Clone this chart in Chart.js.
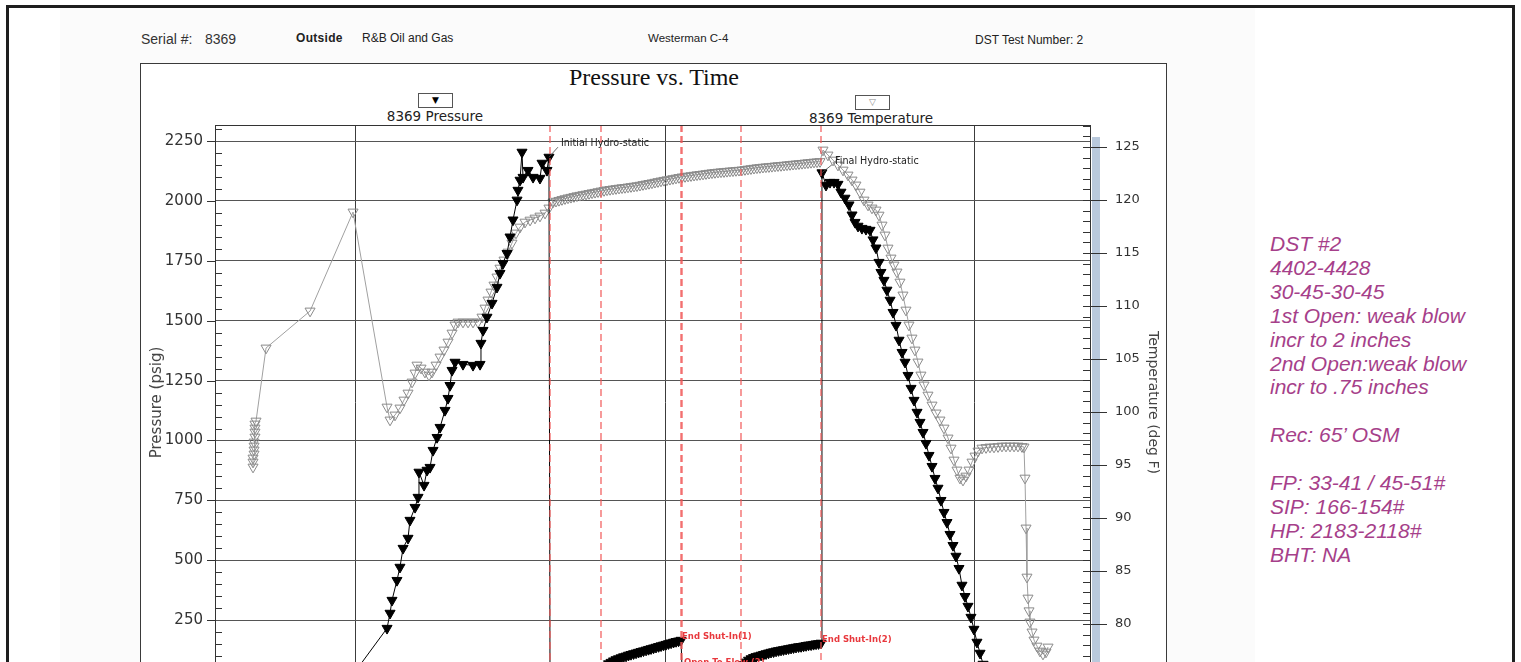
<!DOCTYPE html>
<html>
<head>
<meta charset="utf-8">
<title>Pressure vs. Time</title>
<script src="https://cdn.jsdelivr.net/npm/chart.js@4/dist/chart.umd.min.js"></script>
<style>
html,body{margin:0;padding:0;width:1521px;height:662px;overflow:hidden;background:#fff;}
#frame{position:absolute;left:6px;top:5px;width:1503px;height:760px;border:3px solid #1e1e1e;}
#panel{position:absolute;left:60px;top:8px;width:1195px;height:760px;background:#fbfbfb;}
#box{position:absolute;left:140px;top:63px;width:1025px;height:760px;border:1.5px solid #3a3a3a;background:#fff;}
.t{position:absolute;white-space:nowrap;font-family:"Liberation Sans",Arial,sans-serif;color:#222;line-height:1;transform:translateY(-50%);}
.c{transform:translate(-50%,-50%);}
.lbox{position:absolute;border:1px solid #555;background:#fff;text-align:center;font-family:"DejaVu Sans",sans-serif;line-height:13px;}
#notes{position:absolute;left:1270px;top:232px;font-family:"Liberation Sans",Arial,sans-serif;font-style:italic;font-size:21px;line-height:23.9px;color:#a63f8a;white-space:pre;}
#chart{position:absolute;left:0;top:0;z-index:3;}
</style>
</head>
<body>
<div id="frame"></div>
<div id="panel"></div>
<div id="box"></div>
<div class="t" style="left:141px;top:39px;font-size:14px;color:#333">Serial #:</div>
<div class="t" style="left:205px;top:39px;font-size:14px;color:#333">8369</div>
<div class="t" style="left:296px;top:38px;font-size:12px;font-weight:bold;letter-spacing:0.3px">Outside</div>
<div class="t" style="left:362px;top:38px;font-size:12px">R&amp;B Oil and Gas</div>
<div class="t" style="left:648px;top:39px;font-size:11.5px">Westerman C-4</div>
<div class="t" style="left:975px;top:40px;font-size:12px">DST Test Number: 2</div>
<div class="t c" style="left:654px;top:77px;font-family:'Liberation Serif','Times New Roman',serif;font-size:24px;color:#111">Pressure vs. Time</div>
<div class="lbox" style="left:418px;top:93px;width:33px;height:13px;font-size:9px;color:#000">▼</div>
<div class="t c" style="left:435px;top:117px;font-family:'DejaVu Sans',sans-serif;font-size:13.5px">8369 Pressure</div>
<div class="lbox" style="left:855px;top:95px;width:33px;height:13px;font-size:9px;color:#888">▽</div>
<div class="t c" style="left:871px;top:119px;font-family:'DejaVu Sans',sans-serif;font-size:13.5px">8369 Temperature</div>
<div id="notes">DST #2
4402-4428
30-45-30-45
1st Open: weak blow
incr to 2 inches
2nd Open:weak blow
incr to .75 inches

Rec: 65’ OSM

FP: 33-41 / 45-51#
SIP: 166-154#
HP: 2183-2118#
BHT: NA</div>
<canvas id="chart" width="1521" height="760"></canvas>
<script>
// ---- data (time in hours) ----
const pressureTime = [2.942, 3.310, 3.339, 3.358, 3.406, 3.435, 3.465, 3.513, 3.532, 3.581, 3.610, 3.619, 3.668, 3.697, 3.726, 3.755, 3.794, 3.823, 3.871, 3.900, 3.919, 3.939, 3.968, 4.045, 4.142, 4.210, 4.219, 4.239, 4.277, 4.326, 4.374, 4.403, 4.432, 4.471, 4.500, 4.529, 4.568, 4.577, 4.597, 4.616, 4.626, 4.674, 4.723, 4.790, 4.810, 4.858, 4.877,
  4.887, 4.984, 5.081, 5.178, 5.274,
  5.381, 5.405, 5.429, 5.454, 5.478, 5.502, 5.526, 5.550, 5.575, 5.599, 5.623, 5.647, 5.671, 5.696, 5.720, 5.744, 5.768, 5.792, 5.817, 5.841, 5.865, 5.889, 5.913, 5.938, 5.962, 5.986, 6.010, 6.034, 6.059, 6.083, 6.107, 6.131, 6.155,
  6.165, 6.290, 6.436, 6.581,
  6.736, 6.760, 6.784, 6.809, 6.833, 6.857, 6.881, 6.905, 6.930, 6.954, 6.978, 7.002, 7.026, 7.051, 7.075, 7.099, 7.123, 7.147, 7.172, 7.196, 7.220, 7.244, 7.268, 7.293, 7.317, 7.341, 7.365, 7.389, 7.414, 7.438, 7.462, 7.486, 7.510,
  7.519, 7.558, 7.597, 7.636, 7.674, 7.703, 7.742, 7.781, 7.810, 7.839, 7.868, 7.906, 7.945, 7.984, 8.013, 8.042, 8.071, 8.090, 8.119, 8.148, 8.178, 8.207, 8.236, 8.265, 8.294, 8.323, 8.352, 8.381, 8.410, 8.439, 8.468, 8.497, 8.526, 8.555, 8.584, 8.613, 8.642, 8.671, 8.700, 8.729, 8.758, 8.787, 8.816, 8.845, 8.874, 8.903, 8.932, 8.961, 8.990, 9.019, 9.049, 9.078, 9.107, 9.136];
const pressureValues = [0, 216, 279, 333, 416, 471, 550, 592, 667, 721, 763, 868, 813, 876, 888, 959, 1013, 1055, 1126, 1176, 1230, 1293, 1327, 1318, 1314, 1318, 1406, 1460, 1515, 1573, 1640, 1698, 1739, 1781, 1850, 1921, 2004, 2045, 2087, 2204, 2099, 2128, 2099, 2095, 2158, 2128, 2183,
  33, 35, 36, 37, 39,
  41, 52, 60, 68, 74, 80, 85, 89, 93, 97, 100, 104, 107, 110, 113, 116, 119, 122, 125, 128, 131, 134, 137, 140, 143, 146, 149, 152, 155, 158, 161, 163, 166,
  45, 47, 48, 50,
  51, 64, 75, 83, 89, 94, 98, 101, 104, 107, 110, 113, 116, 118, 121, 123, 125, 127, 129, 131, 133, 135, 137, 139, 140, 142, 144, 146, 147, 149, 151, 152, 154,
  2118, 2066, 2078, 2078, 2070, 2037, 2012, 1984, 1942, 1911, 1895, 1886, 1882, 1878, 1838, 1804, 1744, 1702, 1669, 1628, 1586, 1535, 1481, 1419, 1368, 1327, 1272, 1218, 1168, 1118, 1076, 1034, 988, 938, 892, 842, 801, 750, 700, 658, 608, 562, 517, 466, 396, 349, 308, 262, 212, 158, 112, 66, 24, 0];

const temperatureTime = [2.013, 2.013, 2.013, 2.023, 2.023, 2.023, 2.023, 2.032, 2.032, 2.032, 2.032, 2.042, 2.139, 2.565, 2.981,
  3.310, 3.339, 3.387, 3.435, 3.474, 3.513, 3.552, 3.581, 3.600, 3.639, 3.677, 3.716, 3.745, 3.784, 3.823, 3.861, 3.900, 3.939, 3.968, 3.997, 4.045, 4.094, 4.142, 4.190, 4.229, 4.258, 4.287, 4.316, 4.345, 4.374, 4.403, 4.442, 4.481, 4.519, 4.558, 4.597, 4.645, 4.694, 4.742, 4.790, 4.839, 4.877, 4.916,
  4.945, 4.974, 5.003, 5.032, 5.061, 5.090, 5.119, 5.148, 5.177, 5.206, 5.236, 5.265, 5.294, 5.323, 5.352, 5.381, 5.410, 5.439, 5.468, 5.497, 5.526, 5.555, 5.584, 5.613, 5.642, 5.671, 5.700, 5.729, 5.758, 5.787, 5.816, 5.845, 5.874, 5.903, 5.932, 5.961, 5.990, 6.019, 6.048, 6.077, 6.106, 6.135, 6.165, 6.194, 6.223, 6.252, 6.281, 6.310, 6.339, 6.368, 6.397, 6.426, 6.455, 6.484, 6.513, 6.542, 6.571, 6.600, 6.629, 6.658, 6.687, 6.716, 6.745, 6.774, 6.803, 6.832, 6.861, 6.890, 6.919, 6.948, 6.977, 7.006, 7.035, 7.065, 7.094, 7.123, 7.152, 7.181, 7.210, 7.239, 7.268, 7.297, 7.326, 7.355, 7.384, 7.413, 7.442, 7.471, 7.500,
  7.529, 7.577, 7.626, 7.674, 7.723, 7.771, 7.810, 7.848, 7.887, 7.926, 7.965, 8.003, 8.042, 8.071, 8.100, 8.129, 8.158, 8.187, 8.216, 8.245, 8.274, 8.303, 8.332, 8.361, 8.390, 8.419, 8.448, 8.477, 8.507, 8.545, 8.584, 8.623, 8.661, 8.700, 8.739, 8.768, 8.797, 8.826, 8.855, 8.884, 8.913, 8.942, 8.971, 9.000, 9.029,
  9.068, 9.107, 9.145, 9.184, 9.223, 9.261, 9.300, 9.339, 9.378, 9.416, 9.455, 9.474,
  9.484, 9.494, 9.503, 9.513, 9.523, 9.532, 9.552, 9.571, 9.600, 9.629, 9.658, 9.687, 9.707];
const temperatureValues = [94.81, 95.28, 95.66, 96.04, 96.42, 96.79, 97.17, 97.64, 98.11, 98.49, 98.87, 99.15, 106.04, 109.53, 118.87,
  100.47, 99.25, 99.72, 100.38, 101.13, 101.79, 102.83, 103.68, 104.43, 104.15, 103.77, 103.49, 103.77, 104.43, 105.19, 105.85, 106.60, 107.45, 108.21, 108.49, 108.49, 108.49, 108.49, 108.49, 108.96, 109.81, 110.57, 111.32, 111.98, 112.74, 113.58, 114.34, 115.09, 115.94, 116.89, 117.45, 117.92, 118.11, 118.30, 118.49, 118.77, 119.25, 119.81,
  119.89, 119.97, 120.05, 120.13, 120.20, 120.26, 120.33, 120.40, 120.45, 120.51, 120.56, 120.62, 120.68, 120.73, 120.79, 120.85, 120.90, 120.96, 121.00, 121.04, 121.08, 121.12, 121.16, 121.19, 121.23, 121.27, 121.31, 121.35, 121.40, 121.46, 121.51, 121.57, 121.62, 121.68, 121.74, 121.80, 121.86, 121.91, 121.96, 122.02, 122.07, 122.13, 122.18, 122.22, 122.26, 122.30, 122.34, 122.38, 122.42, 122.45, 122.49, 122.53, 122.57, 122.60, 122.63, 122.66, 122.68, 122.71, 122.74, 122.76, 122.79, 122.81, 122.84, 122.88, 122.92, 122.96, 123.00, 123.04, 123.07, 123.10, 123.13, 123.15, 123.18, 123.21, 123.24, 123.26, 123.29, 123.32, 123.35, 123.38, 123.40, 123.43, 123.46, 123.49, 123.52, 123.55, 123.58, 123.60, 123.63,
  124.72, 124.25, 123.77, 123.30, 122.83, 122.36, 121.89, 121.42, 120.75, 120.00, 119.53, 119.25, 119.06, 118.58, 117.64, 116.70, 115.47, 114.53, 113.87, 113.21, 112.26, 111.04, 109.62, 108.21, 106.98, 105.85, 104.72, 103.49, 102.55, 101.60, 100.66, 99.91, 99.25, 98.49, 97.55, 96.60, 95.47, 94.53, 93.77, 93.58, 93.96, 94.53, 95.28, 95.85, 96.32,
  96.60, 96.65, 96.70, 96.70, 96.74, 96.79, 96.79, 96.79, 96.79, 96.79, 96.74, 96.70,
  93.77, 89.06, 84.43, 82.45, 81.25, 80.19, 79.25, 78.49, 77.92, 77.45, 77.17, 77.36, 77.83];

const pressureTicks = [0, 250, 500, 750, 1000, 1250, 1500, 1750, 2000, 2250];
const temperatureTicks = [75, 80, 85, 90, 95, 100, 105, 110, 115, 120, 125];
const timeTicks = [3, 6, 9];
const eventTimes = [4.887, 5.381, 6.155, 6.165, 6.736, 7.510];
const eventLabels = ['Initial Hydro-static', 'Final Hydro-static', 'End Shut-In(1)', 'Open To Flow (2)', 'End Shut-In(2)'];
const eventLabelTimes = [4.877, 7.519, 6.155, 6.165, 7.510];
const eventLabelPressures = [2183, 2118, 166, 45, 154];

// ---- styles for labels ----
const labelStyle = {
  'Initial Hydro-static': {dx: 12, dy: -14, color: '#222', font: '9.6px "DejaVu Sans"', leader: [9, -10]},
  'Final Hydro-static': {dx: 13, dy: -11, color: '#222', font: '9.6px "DejaVu Sans"', leader: [10, -8]},
  'End Shut-In(1)': {dx: 1, dy: -3, color: '#e8383d', font: 'bold 8.5px "DejaVu Sans"'},
  'Open To Flow (2)': {dx: 2, dy: -6, color: '#e8383d', font: 'bold 8.5px "DejaVu Sans"'},
  'End Shut-In(2)': {dx: 1, dy: -3, color: '#e8383d', font: 'bold 8.5px "DejaVu Sans"'}
};

const decor = {
  id: 'decor',
  afterDatasetsDraw(chart) {
    const {ctx, chartArea: {left, right, top, bottom}, scales: {x, y}} = chart;
    ctx.save();
    ctx.beginPath(); ctx.rect(left, top, right - left, bottom - top); ctx.clip();
    ctx.lineWidth = 1.6; ctx.setLineDash([7, 4]); ctx.strokeStyle = 'rgba(240,85,85,0.75)';
    eventTimes.forEach(t => {
      const px = Math.round(x.getPixelForValue(t));
      ctx.beginPath(); ctx.moveTo(px, top); ctx.lineTo(px, bottom); ctx.stroke();
    });
    ctx.restore();
    ctx.save();
    eventLabels.forEach((txt, i) => {
      const st = labelStyle[txt];
      const px = x.getPixelForValue(eventLabelTimes[i]);
      const py = y.getPixelForValue(eventLabelPressures[i]);
      if (st.leader) {
        ctx.strokeStyle = '#444'; ctx.lineWidth = 0.8;
        ctx.beginPath(); ctx.moveTo(px, py); ctx.lineTo(px + st.leader[0], py + st.leader[1]); ctx.stroke();
      }
      ctx.font = st.font; ctx.fillStyle = st.color;
      ctx.textAlign = 'left'; ctx.textBaseline = 'middle';
      ctx.fillText(txt, px + st.dx, py + st.dy);
    });
    ctx.restore();
  },
  afterDraw(chart) {
    const {ctx, chartArea: {left, right, top, bottom}, scales: {y, y2}} = chart;
    ctx.save();
    ctx.fillStyle = '#b9c9dc';
    ctx.fillRect(right + 2, top + 12, 8, bottom - top);
    ctx.strokeStyle = '#333'; ctx.lineWidth = 1;
    ctx.beginPath(); ctx.moveTo(left, top + 0.5); ctx.lineTo(right + 1, top + 0.5); ctx.stroke();
    for (let v = 0; v <= y.max; v += 50) {
      const py = Math.round(y.getPixelForValue(v)) + 0.5;
      ctx.beginPath();
      if (v % 250 === 0) { ctx.moveTo(left - 8, py); ctx.lineTo(left, py); }
      else { ctx.moveTo(left, py); ctx.lineTo(left + 7, py); }
      ctx.stroke();
    }
    for (let v = Math.ceil(y2.min); v <= y2.max; v += 1) {
      const py = Math.round(y2.getPixelForValue(v)) + 0.5;
      ctx.beginPath();
      if (v % 5 === 0) { ctx.moveTo(right - 7, py); ctx.lineTo(right + 17, py); }
      else { ctx.moveTo(right - 7, py); ctx.lineTo(right + 1, py); }
      ctx.stroke();
    }
    ctx.restore();
  }
};

Chart.defaults.font.family = '"DejaVu Sans", sans-serif';
Chart.defaults.color = '#333';

new Chart(document.getElementById('chart'), {
  type: 'line',
  data: {
    datasets: [
      {
        label: '8369 Pressure',
        data: pressureTime.map((t, i) => ({x: t, y: pressureValues[i]})),
        yAxisID: 'y',
        borderColor: '#000', borderWidth: 1, tension: 0, fill: false,
        pointStyle: 'triangle', pointRotation: 180, pointRadius: 5.8,
        pointBackgroundColor: '#000', pointBorderColor: '#000', pointBorderWidth: 1
      },
      {
        label: '8369 Temperature',
        data: temperatureTime.map((t, i) => ({x: t, y: temperatureValues[i]})),
        yAxisID: 'y2',
        borderColor: '#a0a0a0', borderWidth: 1, tension: 0, fill: false,
        pointStyle: 'triangle', pointRotation: 180, pointRadius: 5.8,
        pointBackgroundColor: 'rgba(255,255,255,0)', pointBorderColor: '#8a8a8a', pointBorderWidth: 1
      }
    ]
  },
  options: {
    responsive: false, animation: false, devicePixelRatio: 1,
    layout: {padding: {left: 146, right: 356, top: 125, bottom: 40}},
    plugins: {legend: {display: false}, tooltip: {enabled: false}, title: {display: false}},
    scales: {
      x: {
        type: 'linear', min: 1.645, max: 10.113,
        afterFit(s) { s.height = 40; },
        afterBuildTicks(s) { s.ticks = timeTicks.map(v => ({value: v})); },
        grid: {color: '#3c3c3c', lineWidth: 1, drawTicks: false},
        border: {display: false},
        ticks: {color: '#333', font: {size: 13}, padding: 6, callback: v => String(v)},
        title: {display: true, text: 'Time (Hours)', font: {size: 14}}
      },
      y: {
        type: 'linear', position: 'left', min: 0, max: 2317.3,
        afterFit(s) { s.width = 69; },
        afterBuildTicks(s) { s.ticks = pressureTicks.map(v => ({value: v})); },
        grid: {color: '#555', lineWidth: 1, drawTicks: false},
        border: {display: true, color: '#333', width: 1},
        ticks: {color: '#333', font: {size: 15}, padding: 12, callback: v => String(v)},
        title: {display: true, text: 'Pressure (psig)', color: '#444', font: {size: 15}, padding: {top: 2, bottom: 0}}
      },
      y2: {
        type: 'linear', position: 'right', min: 74.72, max: 127.08,
        afterFit(s) { s.width = 75; },
        afterBuildTicks(s) { s.ticks = temperatureTicks.map(v => ({value: v})); },
        grid: {drawOnChartArea: false, drawTicks: false},
        border: {display: true, color: '#333', width: 1},
        ticks: {color: '#333', font: {size: 13}, padding: 25, callback: v => String(v)},
        title: {display: true, text: 'Temperature (deg F)', color: '#444', font: {size: 14}, padding: {top: 4, bottom: 0}}
      }
    }
  },
  plugins: [decor]
});
</script>
</body>
</html>
